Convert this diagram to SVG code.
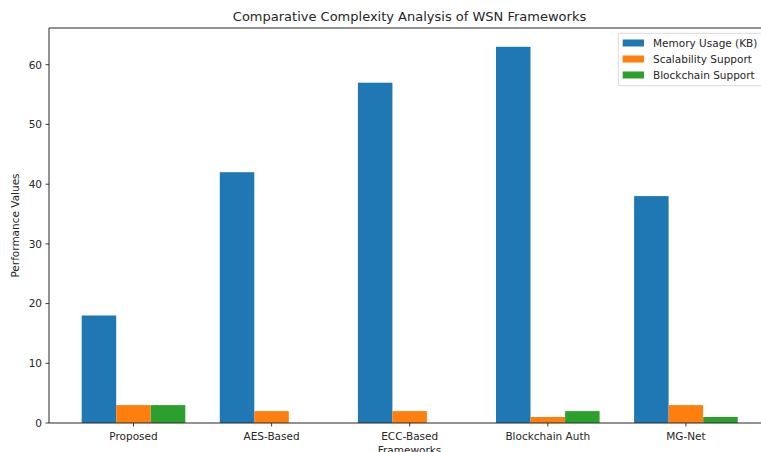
<svg xmlns="http://www.w3.org/2000/svg" width="761" height="452" viewBox="0 0 761 452">
<style>
text{font-family:"DejaVu Sans","Liberation Sans",sans-serif;fill:#262626}
.tick{font-size:10.5px}
.yt{text-anchor:end}
.xt{text-anchor:middle}
.mem{fill:#1f77b4}
.sca{fill:#ff7f0e}
.blk{fill:#2ca02c}
.ax{stroke:#262626;stroke-width:1;fill:none}
.tk{stroke:#262626;stroke-width:0.9}
</style>
<rect width="761" height="452" fill="#ffffff"/>
<text x="409.5" y="21" font-size="13" text-anchor="middle">Comparative Complexity Analysis of WSN Frameworks</text>

<g id="bars-memory">
<rect class="mem" x="81.7" y="315.5" width="34.5" height="107.5"/>
<rect class="mem" x="219.8" y="172.2" width="34.5" height="250.8"/>
<rect class="mem" x="357.9" y="82.7" width="34.5" height="340.3"/>
<rect class="mem" x="496.0" y="46.8" width="34.5" height="376.2"/>
<rect class="mem" x="634.1" y="196.1" width="34.5" height="226.9"/>
</g>
<g id="bars-scalability">
<rect class="sca" x="116.2" y="405.1" width="34.5" height="17.9"/>
<rect class="sca" x="254.3" y="411.1" width="34.5" height="11.9"/>
<rect class="sca" x="392.4" y="411.1" width="34.5" height="11.9"/>
<rect class="sca" x="530.5" y="417.0" width="34.5" height="6.0"/>
<rect class="sca" x="668.6" y="405.1" width="34.5" height="17.9"/>
</g>
<g id="bars-blockchain">
<rect class="blk" x="150.8" y="405.1" width="34.5" height="17.9"/>
<rect class="blk" x="565.1" y="411.1" width="34.5" height="11.9"/>
<rect class="blk" x="703.2" y="417.0" width="34.5" height="6.0"/>
</g>

<g id="axes">
<path class="ax" d="M49,423 V28 H770.5 V423 Z"/>
<g id="y-ticks">
<path class="tk" d="M45.5,423H49M45.5,363.3H49M45.5,303.6H49M45.5,243.9H49M45.5,184.2H49M45.5,124.4H49M45.5,64.7H49"/>
<text class="tick yt" x="42" y="426.8">0</text>
<text class="tick yt" x="42" y="367.1">10</text>
<text class="tick yt" x="42" y="307.4">20</text>
<text class="tick yt" x="42" y="247.7">30</text>
<text class="tick yt" x="42" y="188.0">40</text>
<text class="tick yt" x="42" y="128.2">50</text>
<text class="tick yt" x="42" y="68.5">60</text>
</g>
<g id="x-ticks">
<path class="tk" d="M133.5,423V426.5M271.6,423V426.5M409.7,423V426.5M547.8,423V426.5M685.9,423V426.5"/>
<text class="tick xt" x="133.5" y="439.5">Proposed</text>
<text class="tick xt" x="271.6" y="439.5">AES-Based</text>
<text class="tick xt" x="409.7" y="439.5">ECC-Based</text>
<text class="tick xt" x="547.8" y="439.5">Blockchain Auth</text>
<text class="tick xt" x="685.9" y="439.5">MG-Net</text>
</g>
<text class="tick" x="409.5" y="453.5" text-anchor="middle">Frameworks</text>
<text class="tick" transform="translate(19,225.5) rotate(-90)" text-anchor="middle">Performance Values</text>
</g>

<g id="legend">
<rect x="618.3" y="33.3" width="147" height="52.4" rx="2" ry="2" fill="#ffffff" fill-opacity="0.8" stroke="#d9d9d9" stroke-width="1"/>
<rect class="mem" x="622.7" y="39.5" width="21.3" height="7"/>
<rect class="sca" x="622.7" y="55.5" width="21.3" height="7"/>
<rect class="blk" x="622.7" y="71.5" width="21.3" height="7"/>
<text class="tick" x="653" y="46.7">Memory Usage (KB)</text>
<text class="tick" x="653" y="62.7">Scalability Support</text>
<text class="tick" x="653" y="78.7">Blockchain Support</text>
</g>
</svg>
